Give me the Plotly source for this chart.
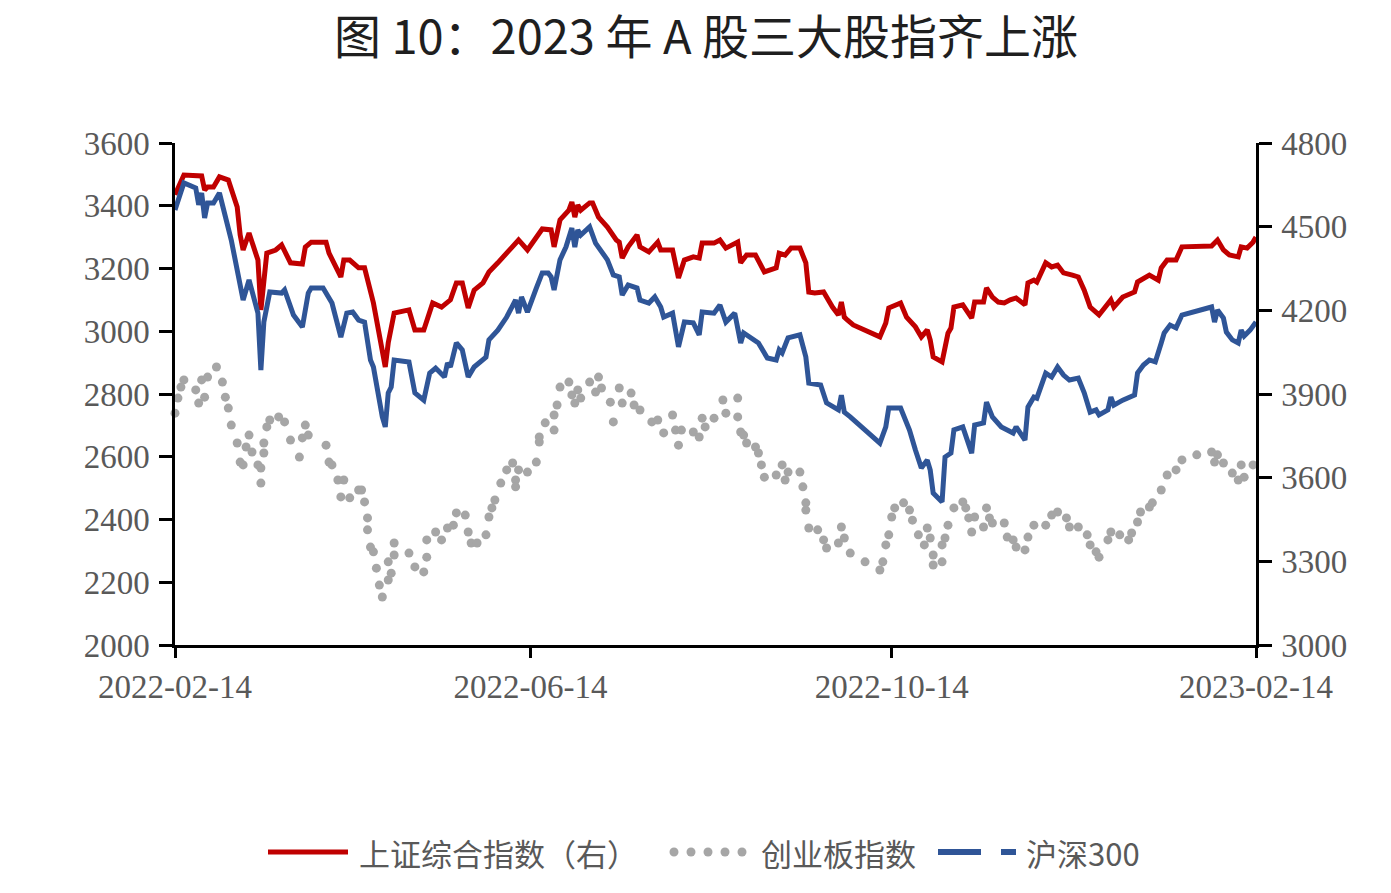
import pandas as pd
import plotly.graph_objects as go

BASE = pd.Timestamp("2022-02-14")

# 上证综合指数 (plotted on left axis scale as in picture)
sh_days = [0, 3, 9, 10, 11, 13, 15, 18, 21, 22, 23, 25, 28, 29, 31, 34, 36, 39, 43, 44, 46, 51, 52, 56, 57, 59,
           62, 64, 67, 71, 72, 74, 79, 81, 84, 87, 90, 93, 95, 97, 99, 101, 104, 106, 109, 113, 116, 119, 123, 124,
           127, 128, 130, 133, 134, 135, 136, 137, 140, 141, 143, 144, 146, 149, 150, 151, 153, 156, 157, 160, 163,
           164, 168, 170, 172, 175, 177, 178, 182, 184, 186, 190, 191, 193, 196, 199, 203, 204, 206, 208, 211, 213,
           214, 216, 219, 222, 224, 225, 226, 227, 229, 238, 240, 241, 245, 247, 250, 252, 254, 255, 256, 259, 261,
           262, 263, 266, 269, 270, 273, 274, 276, 278, 280, 282, 284, 287, 288, 290, 291, 294, 296, 298, 300, 303,
           305, 307, 309, 312, 314, 316, 317, 320, 324, 325, 329, 332, 333, 335, 338, 340, 350, 352, 354, 356, 359,
           360, 362, 364, 365]
sh_vals = [3435, 3498, 3495, 3450, 3460, 3460, 3492, 3482, 3396, 3307, 3259, 3313, 3227, 3068, 3249, 3259, 3275,
           3218, 3214, 3268, 3284, 3284, 3249, 3173, 3227, 3227, 3202, 3202, 3090, 2886, 2963, 3058, 3068, 3004,
           3004, 3090, 3077, 3100, 3154, 3154, 3074, 3131, 3154, 3189, 3218, 3259, 3291, 3259, 3313, 3326, 3323,
           3269, 3355, 3386, 3412, 3364, 3402, 3386, 3409, 3409, 3364, 3355, 3332, 3291, 3284, 3233, 3269, 3307,
           3269, 3253, 3284, 3259, 3259, 3170, 3227, 3237, 3233, 3281, 3281, 3291, 3265, 3284, 3218, 3243, 3243,
           3189, 3202, 3249, 3243, 3265, 3265, 3218, 3125, 3122, 3125, 3077, 3052, 3093, 3045, 3036, 3020, 2982,
           3026, 3074, 3090, 3045, 3014, 2982, 3004, 2972, 2918, 2902, 2994, 3010, 3077, 3084, 3042, 3093, 3093,
           3138, 3109, 3093, 3090, 3100, 3106, 3084, 3154, 3163, 3157, 3218, 3205, 3211, 3186, 3179, 3173, 3131,
           3077, 3052, 3074, 3100, 3077, 3109, 3125, 3157, 3179, 3163, 3202, 3227, 3227, 3269, 3272, 3291, 3259,
           3243, 3237, 3269, 3265, 3284, 3300]

# 创业板指数 (left axis)
cyb_days = [0, 1, 2, 3, 7, 8, 9, 10, 11, 14, 16, 17, 18, 19, 21, 22, 23, 24, 25, 26, 28, 29, 29, 30, 30, 31, 32,
            35, 37, 39, 42, 43, 44, 45, 51, 52, 53, 55, 56, 57, 59, 62, 63, 64, 65, 65, 66, 67, 68, 69, 70, 72, 72,
            73, 74, 74, 79, 81, 84, 85, 85, 88, 90, 92, 94, 95, 98, 99, 100, 102, 105, 106, 107, 108, 110, 112, 114,
            115, 115, 116, 119, 122, 123, 123, 125, 128, 128, 129, 130, 133, 134, 135, 136, 137, 140, 142, 143, 144,
            147, 148, 150, 151, 154, 155, 157, 161, 163, 165, 168, 169, 170, 171, 175, 177, 178, 179, 182, 185, 186,
            190, 190, 191, 192, 193, 196, 197, 198, 199, 203, 205, 206, 207, 211, 212, 213, 213, 214, 217, 219, 220,
            224, 225, 226, 228, 233, 238, 239, 240, 241, 242, 243, 246, 248, 249, 251, 253, 254, 255, 256, 256, 259,
            259, 260, 261, 263, 266, 267, 268, 269, 270, 273, 274, 275, 276, 280, 281, 283, 284, 287, 288, 290, 294,
            296, 298, 301, 302, 305, 308, 309, 311, 312, 315, 316, 319, 322, 323, 325, 326, 329, 330, 333, 335, 338,
            340, 345, 350, 351, 352, 354, 357, 359, 360, 361, 364]
cyb_vals = [2739, 2787, 2822, 2845, 2813, 2771, 2845, 2790, 2854, 2886, 2838, 2790, 2755, 2701, 2644, 2583, 2574,
            2631, 2669, 2615, 2574, 2564, 2516, 2612, 2644, 2695, 2717, 2727, 2711, 2653, 2599, 2660, 2701, 2669,
            2637, 2583, 2574, 2526, 2472, 2526, 2469, 2494, 2494, 2456, 2405, 2367, 2312, 2297, 2245, 2191, 2153,
            2207, 2265, 2229, 2287, 2325, 2293, 2249, 2233, 2280, 2335, 2360, 2335, 2373, 2382, 2421, 2414, 2360,
            2325, 2325, 2351, 2408, 2437, 2462, 2516, 2558, 2580, 2526, 2504, 2558, 2551, 2583, 2647, 2663, 2708,
            2685, 2733, 2765, 2822, 2838, 2797, 2771, 2813, 2787, 2838, 2806, 2854, 2819, 2774, 2711, 2819, 2771,
            2803, 2765, 2749, 2711, 2717, 2676, 2733, 2685, 2637, 2685, 2679, 2663, 2723, 2695, 2723, 2781, 2739,
            2787, 2727, 2679, 2669, 2644, 2631, 2612, 2574, 2535, 2542, 2574, 2526, 2551, 2551, 2504, 2453, 2430,
            2373, 2367, 2335, 2309, 2325, 2376, 2341, 2293, 2265, 2239, 2265, 2319, 2351, 2408, 2437, 2453, 2430,
            2398, 2351, 2319, 2373, 2341, 2287, 2255, 2265, 2319, 2341, 2382, 2437, 2456, 2437, 2405, 2360, 2408,
            2376, 2437, 2405, 2389, 2389, 2344, 2335, 2312, 2303, 2344, 2382, 2382, 2414, 2424, 2405, 2376, 2376,
            2351, 2319, 2297, 2280, 2335, 2360, 2351, 2335, 2357, 2392, 2424, 2440, 2453, 2494, 2542, 2558, 2590,
            2606, 2615, 2583, 2606, 2580, 2548, 2526, 2574, 2535, 2574]

# 沪深300 (right axis)
hs_days = [0, 3, 7, 8, 9, 10, 11, 13, 15, 19, 23, 25, 28, 29, 30, 32, 36, 37, 40, 43, 45, 46, 50, 53, 56, 58, 60,
           62, 64, 66, 67, 69, 70, 71, 72, 73, 74, 79, 81, 84, 86, 88, 91, 92, 93, 95, 97, 99, 101, 105, 106, 109,
           112, 115, 116, 117, 119, 122, 123, 124, 126, 127, 128, 130, 132, 134, 135, 136, 137, 140, 142, 143, 146,
           148, 150, 151, 153, 156, 157, 160, 162, 164, 165, 168, 169, 170, 172, 175, 177, 178, 182, 184, 186, 189,
           191, 192, 197, 200, 203, 204, 205, 207, 211, 213, 214, 218, 220, 224, 225, 226, 228, 238, 240, 241, 245,
           248, 250, 252, 254, 255, 256, 259, 260, 262, 263, 266, 269, 270, 273, 274, 276, 279, 281, 283, 284, 287,
           288, 290, 291, 293, 294, 296, 298, 300, 302, 305, 307, 309, 311, 312, 315, 316, 317, 320, 324, 325, 327,
           329, 331, 333, 334, 336, 338, 340, 350, 351, 352, 354, 355, 357, 359, 360, 361, 363, 365]
hs_vals = [4560, 4657, 4639, 4578, 4621, 4531, 4585, 4585, 4621, 4452, 4237, 4309, 4190, 3986, 4158, 4266, 4262,
           4273, 4183, 4140, 4262, 4280, 4280, 4226, 4104, 4190, 4194, 4165, 4158, 4022, 3997, 3868, 3818, 3782,
           3904, 3925, 4022, 4015, 3904, 3878, 3975, 3993, 3961, 4011, 3997, 4083, 4058, 3961, 3997, 4032, 4094,
           4129, 4176, 4237, 4190, 4248, 4194, 4280, 4309, 4334, 4334, 4320, 4273, 4381, 4427, 4495, 4427, 4488,
           4470, 4499, 4441, 4427, 4381, 4327, 4320, 4255, 4291, 4280, 4237, 4226, 4248, 4212, 4176, 4190, 4140,
           4069, 4158, 4155, 4112, 4194, 4190, 4219, 4158, 4190, 4083, 4119, 4083, 4029, 4022, 4058, 4047, 4101,
           4112, 4033, 3939, 3932, 3868, 3843, 3896, 3835, 3818, 3724, 3782, 3850, 3850, 3771, 3699, 3635, 3663,
           3627, 3545, 3513, 3674, 3688, 3771, 3782, 3688, 3789, 3796, 3871, 3818, 3782, 3771, 3760, 3782, 3735,
           3853, 3889, 3885, 3939, 3975, 3961, 3997, 3968, 3950, 3957, 3904, 3835, 3843, 3825, 3843, 3889, 3860,
           3878, 3896, 3975, 4004, 4022, 4015, 4083, 4119, 4147, 4137, 4183, 4212, 4158, 4201, 4172, 4122, 4094,
           4083, 4129, 4108, 4129, 4158]

x_tick_labels = ["2022-02-14", "2022-06-14", "2022-10-14", "2023-02-14"]
left_ticks = [2000, 2200, 2400, 2600, 2800, 3000, 3200, 3400, 3600]
right_ticks = [3000, 3300, 3600, 3900, 4200, 4500, 4800]
legend_names = ["上证综合指数（右）", "创业板指数", "沪深300"]
title_text = "图 10：2023 年 A 股三大股指齐上涨"

RED = "#C00000"
BLUE = "#2F5597"
GRAY = "#A6A6A6"
TXT = "#595959"


def to_dates(days):
    return [BASE + pd.Timedelta(days=int(d)) for d in days]


fig = go.Figure()
fig.add_trace(go.Scatter(x=to_dates(sh_days), y=sh_vals, mode="lines", name=legend_names[0],
                         line=dict(color=RED, width=5), yaxis="y"))
fig.add_trace(go.Scatter(x=to_dates(cyb_days), y=cyb_vals, mode="markers", name=legend_names[1],
                         marker=dict(color=GRAY, size=9, line=dict(width=0)), yaxis="y", cliponaxis=False))
fig.add_trace(go.Scatter(x=to_dates(hs_days), y=hs_vals, mode="lines", name=legend_names[2],
                         line=dict(color=BLUE, width=5), yaxis="y2"))

# plot area in pixels
L, R, T, B = 175, 1256, 143, 645
W, H = R - L, B - T
WID, HEI = 1391, 893


def px(xp):
    return (xp - L) / W


def py(yp):
    return (B - yp) / H


axis_font = dict(family="Liberation Serif", size=33, color=TXT)
common = dict(showline=True, linecolor="black", linewidth=2.5, ticks="outside", tickwidth=2.5,
              tickcolor="black", showgrid=False, zeroline=False, tickfont=axis_font)

fig.update_layout(
    width=WID, height=HEI,
    margin=dict(l=L, r=WID - R, t=T, b=HEI - B),
    plot_bgcolor="white", paper_bgcolor="white",
    showlegend=False,
    title=dict(text=title_text, x=706 / WID, xref="container", xanchor="center",
               y=1 - 38 / HEI, yref="container", yanchor="middle",
               font=dict(family="Noto Sans CJK SC", size=47, color="#1f1f1f")),
    xaxis=dict(type="date", range=[BASE, BASE + pd.Timedelta(days=365)],
               tickvals=[pd.Timestamp(t) for t in x_tick_labels], ticktext=x_tick_labels,
               ticklen=10, ticklabelstandoff=1, **common),
    yaxis=dict(range=[2000, 3600], tickvals=left_ticks, ticklen=13, ticklabelstandoff=3, **common),
    yaxis2=dict(range=[3000, 4800], tickvals=right_ticks, overlaying="y", side="right",
                ticklen=13, ticklabelstandoff=3, **common),
)

# manual legend
ly = 852
leg_font = dict(family="Noto Sans CJK SC", size=31, color=TXT)
shapes = []
shapes.append(dict(type="line", xref="paper", yref="paper", x0=px(268), x1=px(348), y0=py(ly), y1=py(ly),
                   line=dict(color=RED, width=5)))
for cx in [674, 691, 708, 725, 742]:
    shapes.append(dict(type="circle", xref="paper", yref="paper", xsizemode="pixel", ysizemode="pixel",
                       xanchor=px(cx), yanchor=py(ly), x0=-4.5, x1=4.5, y0=-4.5, y1=4.5,
                       fillcolor=GRAY, line=dict(width=0)))
shapes.append(dict(type="line", xref="paper", yref="paper", x0=px(938), x1=px(981), y0=py(ly), y1=py(ly),
                   line=dict(color=BLUE, width=6)))
shapes.append(dict(type="line", xref="paper", yref="paper", x0=px(1001), x1=px(1016), y0=py(ly), y1=py(ly),
                   line=dict(color=BLUE, width=6)))
fig.update_layout(shapes=shapes)

for xpos, name in zip([357, 759, 1024], legend_names):
    fig.add_annotation(x=px(xpos), y=py(ly), xref="paper", yref="paper", text=name, showarrow=False,
                       xanchor="left", yanchor="middle", font=leg_font)

fig.write_html("out.html")
